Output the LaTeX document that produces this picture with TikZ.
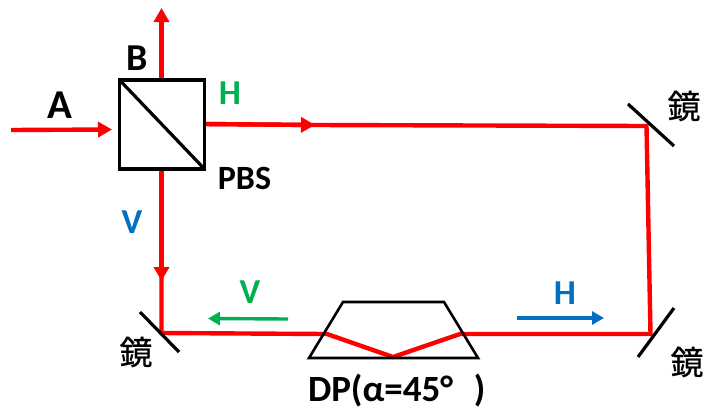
\documentclass[tikz,border=0pt]{standalone}
\usepackage{fontspec}
\setmainfont{Carlito}
\newfontfamily\cjkfont[FakeBold=0.6]{Noto Sans CJK JP}
\usetikzlibrary{arrows.meta}
\definecolor{beamred}{RGB}{255,0,0}
\definecolor{labgreen}{RGB}{0,176,80}
\definecolor{labblue}{RGB}{0,112,192}
\tikzset{
  beam/.style={draw=beamred,line width=4.4pt},
  beamarrow/.style={beam,-{Triangle[length=14pt,width=15pt,fill=beamred]}},
  optic/.style={draw=black,line width=3.2pt},
  thinoptic/.style={draw=black,line width=2.6pt,line join=miter},
  lab/.style={inner sep=0pt,outer sep=0pt,font=\bfseries\fontsize{#1}{#1}\selectfont},
  kanji/.style={inner sep=0pt,outer sep=0pt,text=black,font=\cjkfont\fontsize{33}{33}\selectfont},
  hintarrow/.style={line width=3.4pt,-{Triangle[length=12pt,width=13pt]}}
}
\begin{document}
\begin{tikzpicture}[x=1pt,y=-1pt]
\useasboundingbox (0,0) rectangle (703,410);
% named points
\coordinate (aStart) at (11,130);
\coordinate (aEnd) at (112,129.5);
\coordinate (bEnd) at (161.5,8);
\coordinate (pbsTop) at (161.5,80);
\coordinate (pbsBot) at (161.5,169);
\coordinate (pbsRight) at (204,124);
\coordinate (hMid) at (315,125);
\coordinate (mTR) at (646.5,126);
\coordinate (mBR) at (650.5,334);
\coordinate (mBL) at (161.5,333);
\coordinate (vMid) at (161.5,281);
\coordinate (dpR) at (460,334);
\coordinate (dpB) at (393,357);
\coordinate (dpL) at (327,334);
\coordinate (m1a) at (628,104); \coordinate (m1b) at (674,146);
\coordinate (m2a) at (674,308); \coordinate (m2b) at (638,357);
\coordinate (m3a) at (140,312); \coordinate (m3b) at (179,352);
\coordinate (dp1) at (343,302); \coordinate (dp2) at (444,302);
\coordinate (dp3) at (478,358); \coordinate (dp4) at (309,358);
\coordinate (gS) at (288,319); \coordinate (gE) at (208,318.5);
\coordinate (bS) at (517,318); \coordinate (bE) at (604,318);
% beams
\draw[beam,line join=round] (pbsRight) -- (hMid) -- (mTR) -- (mBR) -- (dpR) -- (dpB) -- (dpL) -- (mBL) -- (pbsBot);
\draw[beamarrow] (aStart) -- (aEnd);
\draw[beamarrow] (pbsTop) -- (bEnd);
\draw[beamarrow] (pbsRight) -- (hMid);
\draw[beamarrow] (pbsBot) -- (vMid);
% PBS
\node[optic,rectangle,minimum width=85pt,minimum height=89pt,inner sep=0pt,outer sep=0pt] (pbs) at (162,124.5) {};
\draw[optic] (pbs.north west) -- (pbs.south east);
% mirrors
\draw[optic] (m1a) -- (m1b);
\draw[optic] (m2a) -- (m2b);
\draw[optic] (m3a) -- (m3b);
% Dove prism
\draw[thinoptic] (dp1) -- (dp2) -- (dp3) -- (dp4) -- cycle;
% hint arrows
\draw[hintarrow,draw=labgreen,fill=labgreen] (gS) -- (gE);
\draw[hintarrow,draw=labblue,fill=labblue] (bS) -- (bE);
% labels
\node[lab=41] (la) at (59.5,105) {A};
\node[lab=38] (lb) at (137,58) {B};
\node[lab=35,text=labgreen] (lh) at (230,93) {H};
\node[lab=34] (lpbs) at (244.5,178) {PBS};
\node[lab=35,text=labblue] (lv) at (132,222) {V};
\node[lab=35,text=labgreen] (lv2) at (250,292) {V};
\node[lab=35,text=labblue] (lh2) at (565,293) {H};
\node[lab=37,anchor=west] (ldp) at (308,391) {DP(α=45°\hspace{21pt})};
\node[kanji] (k1) at (684,106) {鏡};
\node[kanji] (k2) at (687,362) {鏡};
\node[kanji] (k3) at (136,352) {鏡};
\end{tikzpicture}
\end{document}
